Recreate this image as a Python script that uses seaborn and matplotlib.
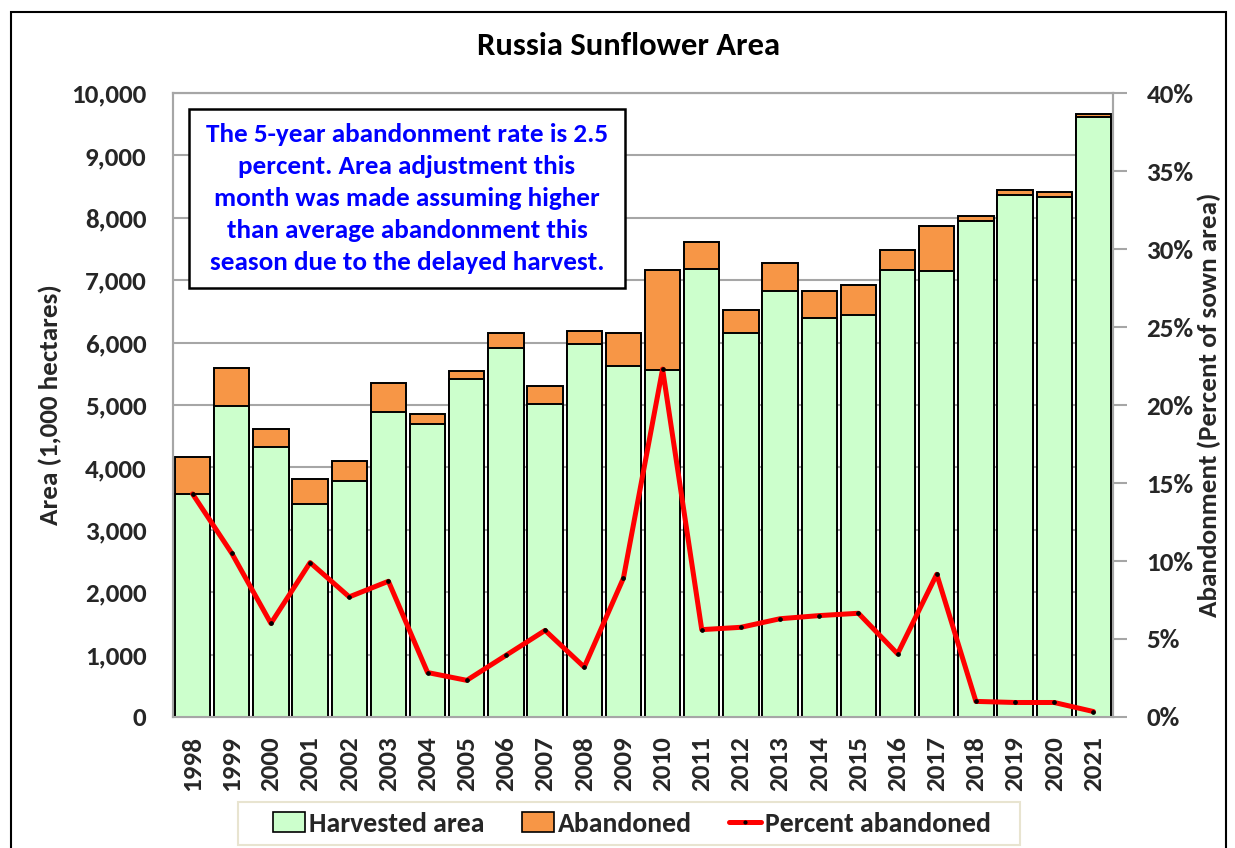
import matplotlib
matplotlib.use("Agg")
import matplotlib.pyplot as plt
import seaborn as sns
import pandas as pd
import numpy as np
from matplotlib.patches import Rectangle, Patch
from matplotlib.lines import Line2D
from matplotlib.ticker import FuncFormatter

years = [str(y) for y in range(1998, 2022)]
harvested = [3580, 4990, 4330, 3420, 3790, 4880, 4690, 5410, 5920, 5010, 5970, 5620,
             5555, 7175, 6150, 6820, 6390, 6450, 7170, 7140, 7950, 8370, 8340, 9610]
sown_total = [4160, 5590, 4610, 3810, 4110, 5345, 4850, 5540, 6160, 5300, 6180, 6150,
              7160, 7620, 6520, 7270, 6820, 6920, 7480, 7870, 8030, 8450, 8420, 9660]
pct_abandoned = [14.3, 10.5, 6.0, 9.9, 7.7, 8.7, 2.85, 2.35, 3.95, 5.55, 3.2, 8.9,
                 22.3, 5.6, 5.75, 6.3, 6.5, 6.65, 4.05, 9.15, 1.0, 0.93, 0.93, 0.35]

title = "Russia Sunflower Area"
note = ("The 5-year abandonment rate is 2.5\npercent. Area adjustment this\n"
        "month was made assuming higher\nthan average abandonment this\n"
        "season due to the delayed harvest.")

df = pd.DataFrame({"year": years, "harvested": harvested, "total": sown_total,
                   "pct": pct_abandoned})

sns.set_theme(style="white")
FONT = ["Carlito", "DejaVu Sans"]
plt.rcParams["font.family"] = FONT
plt.rcParams["font.weight"] = "bold"

GREEN = "#CCFFCC"
ORANGE = "#F79646"
RED = "#FF0000"
GRID = "#A6A6A6"
FS = 19.5

W, H = 1235, 848
fig = plt.figure(figsize=(W / 100, H / 100), dpi=100)
fig.patch.set_facecolor("white")

L, R, T, B = 173, 1113, 93, 717
ax = fig.add_axes([L / W, 1 - B / H, (R - L) / W, (B - T) / H])

sns.barplot(data=df, x="year", y="total", color=ORANGE, saturation=1, width=0.9,
            edgecolor="black", linewidth=1.4, ax=ax, zorder=2)
sns.barplot(data=df, x="year", y="harvested", color=GREEN, saturation=1, width=0.9,
            edgecolor="black", linewidth=1.4, ax=ax, zorder=3)

ax.set_ylim(0, 10000)
ax.set_xlim(-0.5, len(years) - 0.5)
ax.set_yticks(np.arange(0, 10001, 1000))
ax.yaxis.set_major_formatter(FuncFormatter(lambda v, p: f"{int(v):,}"))
ax.grid(axis="y", color=GRID, linewidth=1.5, zorder=0)
ax.set_axisbelow(True)
ax.tick_params(axis="y", labelsize=FS, pad=19, length=0)
ax.tick_params(axis="x", labelsize=FS, rotation=90, pad=14, length=0)
for lab in ax.get_xticklabels() + ax.get_yticklabels():
    lab.set_fontweight("bold")
ax.set_xlabel("")
ax.set_ylabel("Area (1,000 hectares)", fontsize=FS, fontweight="bold")
ax.yaxis.set_label_coords((62 - L) / (R - L), 0.5)
for s in ax.spines.values():
    s.set_color(GRID)
    s.set_linewidth(1.5)

ax2 = ax.twinx()
sns.lineplot(data=df, x="year", y="pct", color=RED, linewidth=3.6, ax=ax2,
             marker="o", markersize=2.6, markerfacecolor="black",
             markeredgecolor="black", sort=False, zorder=5)
ax2.set_ylim(0, 40)
ax2.set_yticks(np.arange(0, 41, 5))
ax2.yaxis.set_major_formatter(FuncFormatter(lambda v, p: f"{int(v)}%"))
ax2.tick_params(axis="y", labelsize=FS, pad=14, length=10, width=1.5, color=GRID,
                direction="out", right=True)
for lab in ax2.get_yticklabels():
    lab.set_fontweight("bold")
ax2.set_ylabel("Abandonment (Percent of sown area)", fontsize=FS, fontweight="bold")
ax2.yaxis.set_label_coords((1197 - L) / (R - L), 0.5)
ax2.grid(False)
ax2.set_xlim(-0.5, len(years) - 0.5)
for s in ax2.spines.values():
    s.set_color(GRID)
    s.set_linewidth(1.5)

# Title
fig.text(629 / W, 1 - 46 / H, title, ha="center", va="center", fontsize=23.5,
         fontweight="bold", color="black")

# Note box
bx0, bx1, by0, by1 = 189, 625, 109, 288
fig.patches.append(Rectangle((bx0 / W, 1 - by1 / H), (bx1 - bx0) / W, (by1 - by0) / H,
                             transform=fig.transFigure, facecolor="white",
                             edgecolor="black", linewidth=1.8, zorder=10))
fig.text((bx0 + bx1) / 2 / W, 1 - (by0 + by1) / 2 / H, note, ha="center", va="center",
         fontsize=19.5, fontweight="bold", color="#0000FF", linespacing=1.47, zorder=11)

# Outer frame
fig.patches.append(Rectangle((11 / W, -0.01), (1226 - 11) / W, 1 - 12 / H + 0.01,
                             transform=fig.transFigure, facecolor="none",
                             edgecolor="black", linewidth=1.5, zorder=20))

# Legend frame (separate box)
lx0, lx1, ly0, ly1 = 238, 1020, 802, 845
fig.patches.append(Rectangle((lx0 / W, 1 - ly1 / H), (lx1 - lx0) / W, (ly1 - ly0) / H,
                             transform=fig.transFigure, facecolor="white",
                             edgecolor="#E8E4D0", linewidth=1.5, zorder=1))

handles = [Patch(facecolor=GREEN, edgecolor="black", linewidth=1.2),
           Patch(facecolor=ORANGE, edgecolor="black", linewidth=1.2),
           Line2D([], [], color=RED, linewidth=3.6, marker="o", markersize=2,
                  markerfacecolor="black", markeredgecolor="black")]
labels = ["Harvested area", "Abandoned", "Percent abandoned"]
leg = fig.legend(handles, labels, loc="center", bbox_to_anchor=(632 / W, 1 - 823.5 / H),
                 ncol=3, frameon=False,
                 handlelength=1.15, handleheight=0.75, handletextpad=0.15,
                 columnspacing=1.35, borderpad=0.2,
                 prop={"weight": "bold", "size": 20, "family": FONT})

fig.savefig("out.png", dpi=100)
